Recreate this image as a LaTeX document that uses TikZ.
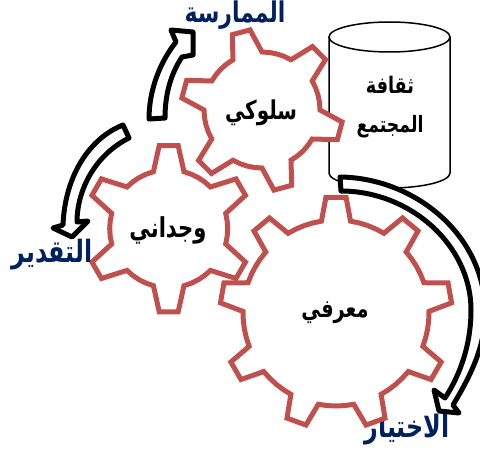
\documentclass[tikz,border=0pt]{standalone}
\usepackage{graphicx}
\usepackage{fontspec}
\TeXXeTstate=1
\newfontfamily\arabicfont[Script=Arabic]{DejaVu Sans}
\definecolor{gearred}{HTML}{C0504D}
\definecolor{labelnavy}{HTML}{002060}
\newcommand{\artxt}[2]{\scalebox{1}[1.3]{\resizebox{#1pt}{!}{\arabicfont\bfseries\beginR #2\endR}}}
% cx cy R r n rot outer-half-angle inner-half-angle
\newcommand{\drawgear}[8]{%
  \def\gcx{#1}\def\gcy{#2}\def\gR{#3}\def\gr{#4}\def\gn{#5}\def\grot{#6}\def\gow{#7}\def\giw{#8}%
  \pgfmathsetmacro{\gstep}{360/\gn}%
  \draw[gearline] ({\gcx+\gR*cos(\grot-\gow)},{\gcy-\gR*sin(\grot-\gow)})
  \foreach \i in {1,...,\gn}{
    -- ({\gcx+\gR*cos(\grot+(\i-1)*\gstep+\gow)},{\gcy-\gR*sin(\grot+(\i-1)*\gstep+\gow)})
    \foreach \t in {0,0.25,0.5,0.75,1}{
      -- ({\gcx+\gr*cos(\grot+(\i-1)*\gstep+\giw+\t*(\gstep-2*\giw))},{\gcy-\gr*sin(\grot+(\i-1)*\gstep+\giw+\t*(\gstep-2*\giw))})
    }
    -- ({\gcx+\gR*cos(\grot+\i*\gstep-\gow)},{\gcy-\gR*sin(\grot+\i*\gstep-\gow)})
  } -- cycle;}
\tikzset{
  gearline/.style={draw=gearred,fill=white,line width=5pt,miter limit=3},
  flowarrow/.style={draw=black,fill=white,line width=5pt,line join=round},
  bodytext/.style={inner sep=0pt,text=black},
  navytext/.style={inner sep=0pt,text=labelnavy},
  drumline/.style={draw=black,fill=white,line width=1.5pt}
}
\begin{document}
\begin{tikzpicture}[x=1pt,y=-1pt]
\useasboundingbox (0,0) rectangle (480,452);
\clip (0,0) rectangle (480,452);
% drum
\draw[drumline] (329,37) -- (329,173) arc[start angle=180,end angle=360,x radius=60.5pt,y radius=15pt] -- (450,37);
\draw[drumline] (389.5,37) ellipse[x radius=60.5pt,y radius=15pt];
\node[bodytext] (culturea) at (390,85) {\artxt{48}{ثقافة}};
\node[bodytext] (cultureb) at (390,127) {\artxt{67}{المجتمع}};
% labels behind gears
\node[navytext] (choice) at (407,430) {\artxt{85}{الاختيار}};
\node[navytext] (practice) at (235,15) {\artxt{101}{الممارسة}};
% gears
\drawgear{262}{110}{81}{58}{6}{45}{6.5}{15}
\drawgear{336}{313}{116}{93}{9}{10}{5}{9}
\drawgear{168.7}{228.7}{83.7}{59}{6}{90}{6.5}{15}
\node[bodytext] (behav) at (261,113) {\artxt{72}{سلوكي}};
\node[bodytext] (cogn) at (335,313) {\artxt{67}{معرفي}};
\node[bodytext] (affect) at (168,230) {\artxt{77}{وجداني}};
% arrows
\draw[flowarrow] (149,119) .. controls (149,90) and (160,62) .. (176,42)
  -- (171,30) -- (193,32) -- (193,55) -- (182,57)
  .. controls (172,72) and (165,92) .. (165,118) -- cycle;
\draw[flowarrow] (123,125) .. controls (90,138) and (65,175) .. (63,225)
  -- (53,228) -- (72,237) -- (88,221) -- (77,222)
  .. controls (77,190) and (95,155) .. (129,138) -- cycle;
\draw[flowarrow] (340,177) .. controls (415,178) and (484,235) .. (485,310)
  .. controls (486,345) and (471,375) .. (453,405)
  -- (459,413) -- (439,411) -- (434,390) -- (445,398)
  .. controls (460,375) and (471,345) .. (471,310)
  .. controls (471,245) and (410,191) .. (341,191) -- cycle;
\node[navytext] (apprec) at (52,255) {\artxt{81}{التقدير}};
\end{tikzpicture}
\end{document}
